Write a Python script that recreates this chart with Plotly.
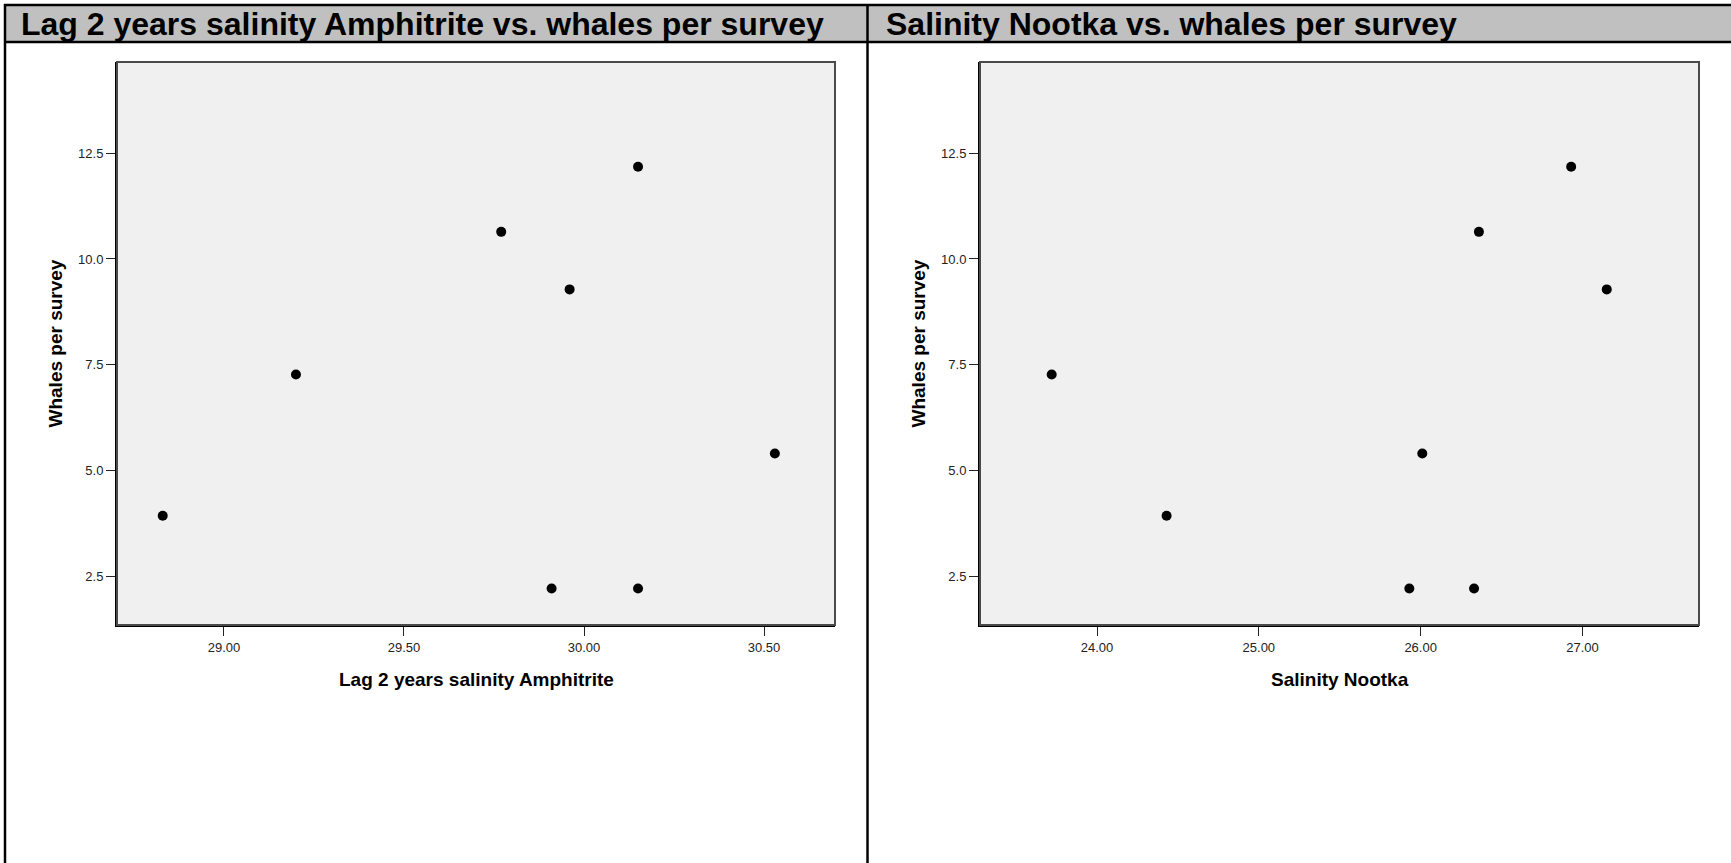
import plotly.graph_objects as go

W, H = 1731, 863

# ---- data ----
whales = [7.27, 3.93, 2.21, 2.21, 5.40, 10.64, 12.18, 9.28]
lag2_salinity_amphitrite = [29.20, 28.83, 29.91, 30.15, 30.53, 29.77, 30.15, 29.96]
salinity_nootka = [23.72, 24.43, 25.93, 26.33, 26.01, 26.36, 26.93, 27.15]

titles = ["Lag 2 years salinity Amphitrite vs. whales per survey",
          "Salinity Nootka vs. whales per survey"]
x_titles = ["Lag 2 years salinity Amphitrite", "Salinity Nootka"]
y_title = "Whales per survey"
x1_ticks = [29.0, 29.5, 30.0, 30.5]
x2_ticks = [24.0, 25.0, 26.0, 27.0]
y_ticks = [2.5, 5.0, 7.5, 10.0, 12.5]


def px(x):
    return x / W


def py(y):
    return 1 - y / H


FONT = "Liberation Sans, Arial, Helvetica, sans-serif"

fig = go.Figure()
fig.add_trace(go.Scatter(x=lag2_salinity_amphitrite, y=whales, mode="markers",
                         marker=dict(color="black", size=10), xaxis="x", yaxis="y",
                         showlegend=False))
fig.add_trace(go.Scatter(x=salinity_nootka, y=whales, mode="markers",
                         marker=dict(color="black", size=10), xaxis="x2", yaxis="y2",
                         showlegend=False))

ydom = [py(625), py(62)]
common_x = dict(showgrid=False, zeroline=False, showline=True, linecolor="black", linewidth=2,
                ticks="outside", ticklen=9, tickcolor="#222", tickwidth=1,
                tickfont=dict(family=FONT, size=13, color="#222"))
common_y = dict(common_x)

fig.update_layout(
    width=W, height=H,
    margin=dict(l=0, r=0, t=0, b=0),
    paper_bgcolor="white",
    plot_bgcolor="#F0F0F0",
    xaxis=dict(domain=[px(117), px(835)], range=[28.703, 30.697], anchor="y",
               tickvals=x1_ticks, ticktext=["%.2f" % v for v in x1_ticks], **common_x),
    yaxis=dict(domain=ydom, range=[1.346, 14.656], anchor="x",
               tickvals=y_ticks, ticktext=["%.1f" % v for v in y_ticks], **common_y),
    xaxis2=dict(domain=[px(980), px(1699)], range=[23.277, 27.72], anchor="y2",
                tickvals=x2_ticks, ticktext=["%.2f" % v for v in x2_ticks], **common_x),
    yaxis2=dict(domain=ydom, range=[1.346, 14.656], anchor="x2",
                tickvals=y_ticks, ticktext=["%.1f" % v for v in y_ticks], **common_y),
)

shapes = []
# plot frames (top/right grey)
for xr, yr in (("x", "y"), ("x2", "y2")):
    shapes.append(dict(type="rect", xref=xr + " domain", yref=yr + " domain",
                       x0=0, x1=1, y0=0, y1=1, line=dict(color="#4a4a4a", width=2),
                       layer="above"))
# title band
shapes.append(dict(type="rect", xref="paper", yref="paper", x0=px(5), x1=px(W + 5),
                   y0=py(42), y1=py(5), fillcolor="#C0C0C0", line=dict(width=0), layer="below"))
shapes.append(dict(type="line", xref="paper", yref="paper", x0=px(4), x1=1.01,
                   y0=py(5), y1=py(5), line=dict(color="black", width=2.5)))
shapes.append(dict(type="line", xref="paper", yref="paper", x0=px(4), x1=1.01,
                   y0=py(42), y1=py(42), line=dict(color="black", width=2.5)))
# left border and divider
shapes.append(dict(type="line", xref="paper", yref="paper", x0=px(5), x1=px(5),
                   y0=py(4), y1=-0.01, line=dict(color="black", width=2.5)))
shapes.append(dict(type="line", xref="paper", yref="paper", x0=px(867.5), x1=px(867.5),
                   y0=py(4), y1=-0.01, line=dict(color="black", width=2.5)))
fig.update_layout(shapes=shapes)

ann = []
for t, x0 in zip(titles, (19, 884)):
    ann.append(dict(text="<b>%s</b>" % t, xref="paper", yref="paper", x=px(x0), y=py(24),
                    xanchor="left", yanchor="middle", showarrow=False,
                    font=dict(family=FONT, size=32, color="black")))
for t, cx in zip(x_titles, (476, 1339.5)):
    ann.append(dict(text="<b>%s</b>" % t, xref="paper", yref="paper", x=px(cx), y=py(679),
                    xanchor="center", yanchor="middle", showarrow=False,
                    font=dict(family=FONT, size=19, color="black")))
for cx in (55, 918):
    ann.append(dict(text="<b>%s</b>" % y_title, xref="paper", yref="paper", x=px(cx),
                    y=py(343.5), xanchor="center", yanchor="middle", textangle=-90,
                    showarrow=False, font=dict(family=FONT, size=19, color="black")))
fig.update_layout(annotations=ann)

fig.write_html("out.html")
